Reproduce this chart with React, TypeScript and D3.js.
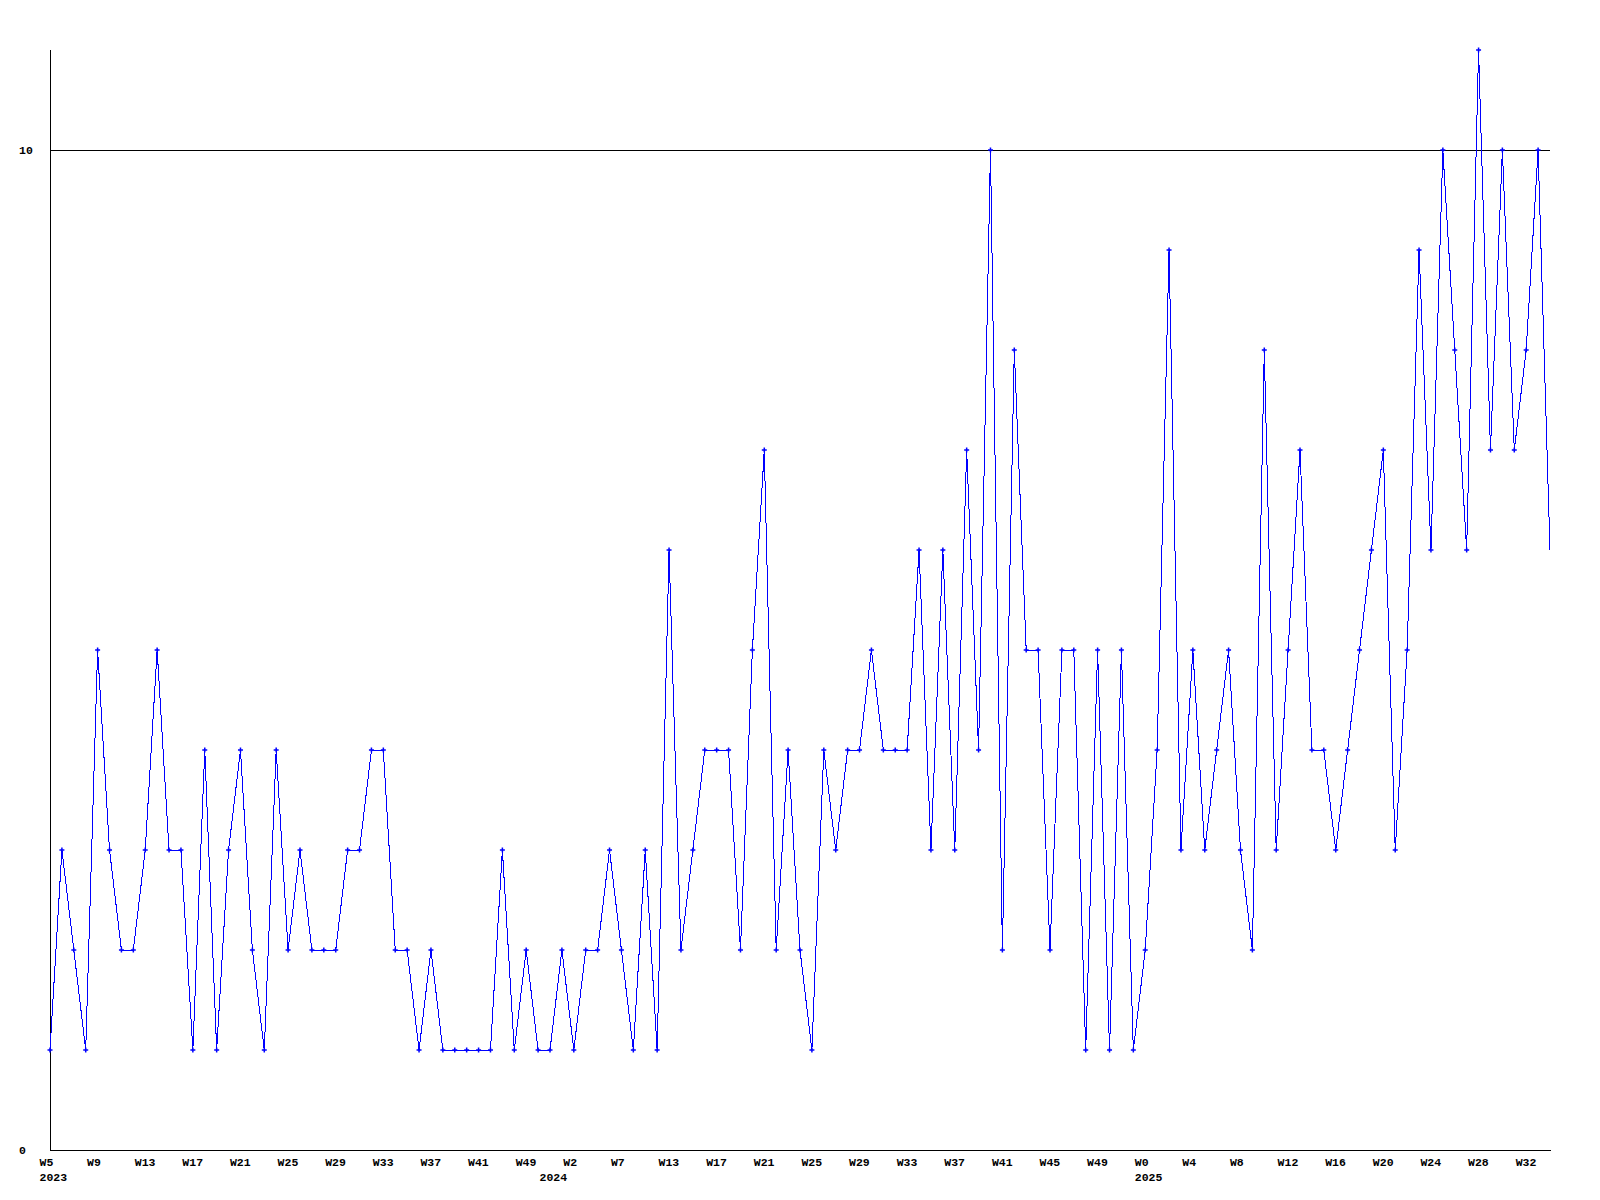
import React, { useEffect } from "react";
import * as d3 from "d3";

const values: number[] = [
  1, 3, 2, 1, 5, 3, 2, 2, 3, 5, 3, 3, 1, 4, 1, 3, 4, 2, 1, 4,
  2, 3, 2, 2, 2, 3, 3, 4, 4, 2, 2, 1, 2, 1, 1, 1, 1, 1, 3, 1,
  2, 1, 1, 2, 1, 2, 2, 3, 2, 1, 3, 1, 6, 2, 3, 4, 4, 4, 2, 5,
  7, 2, 4, 2, 1, 4, 3, 4, 4, 5, 4, 4, 4, 6, 3, 6, 3, 7, 4, 10,
  2, 8, 5, 5, 2, 5, 5, 1, 5, 1, 5, 1, 2, 4, 9, 3, 5, 3, 4, 5,
  3, 2, 8, 3, 5, 7, 4, 4, 3, 4, 5, 6, 7, 3, 5, 9, 6, 10, 8, 6,
  11, 7, 10, 7, 8, 10, 6,
];

const weekLabels: string[] = [
  "W5", "W9", "W13", "W17", "W21", "W25", "W29", "W33", "W37", "W41", "W49", "W2",
  "W7", "W13", "W17", "W21", "W25", "W29", "W33", "W37", "W41", "W45", "W49", "W0",
  "W4", "W8", "W12", "W16", "W20", "W24", "W28", "W32",
];
const weekLabelStep = 4;

const yearLabels: string[] = ["2023", "2024", "2025"];
const yearIndex: number[] = [0, 42, 92];

const yTicks: number[] = [0, 10];
const yMax = 11;

const W = 1600;
const H = 1200;
const left = 50;
const right = 1550;
const top = 50;
const bottom = 1150;

const FONT = "'Liberation Mono', 'DejaVu Sans Mono', monospace";

export default function App() {
  useEffect(() => {
    document.body.style.margin = "0";
  }, []);

  const x = d3.scaleLinear().domain([0, values.length - 1]).range([left, right]);
  const y = d3.scaleLinear().domain([0, yMax]).range([bottom, top]);

  const line = d3
    .line<number>()
    .x((_, i) => x(i))
    .y((d) => y(d));

  const path = line(values) || "";

  return (
    <svg
      width={W}
      height={H}
      style={{ position: "absolute", left: 0, top: 0, background: "#fff" }}
    >
      <rect x={0} y={0} width={W} height={H} fill="#fff" />
      {/* grid line at 10 */}
      {yTicks
        .filter((t) => t > 0)
        .map((t) => (
          <line
            key={"g" + t}
            x1={left}
            x2={right}
            y1={Math.round(y(t)) + 0.5}
            y2={Math.round(y(t)) + 0.5}
            stroke="#000"
            strokeWidth={1}
            shapeRendering="crispEdges"
          />
        ))}
      {/* axes */}
      <line
        x1={left + 0.5}
        x2={left + 0.5}
        y1={top}
        y2={bottom + 0.5}
        stroke="#000"
        strokeWidth={1}
        shapeRendering="crispEdges"
      />
      <line
        x1={left}
        x2={right + 1}
        y1={bottom + 0.5}
        y2={bottom + 0.5}
        stroke="#000"
        strokeWidth={1}
        shapeRendering="crispEdges"
      />
      {/* y tick labels */}
      {yTicks.map((t) => (
        <text
          key={"yt" + t}
          x={19}
          y={y(t) + 4}
          fontFamily={FONT}
          fontWeight="bold"
          fontSize={11.5}
          fill="#000"
        >
          {t}
        </text>
      ))}
      {/* week labels */}
      {weekLabels.map((lab, i) => (
        <text
          key={"w" + i}
          x={x(i * weekLabelStep) - 10.5}
          y={bottom + 16}
          fontFamily={FONT}
          fontWeight="bold"
          fontSize={11.5}
          fill="#000"
        >
          {lab}
        </text>
      ))}
      {/* year labels */}
      {yearLabels.map((lab, i) => (
        <text
          key={"y" + i}
          x={x(yearIndex[i]) - 10.5}
          y={bottom + 31}
          fontFamily={FONT}
          fontWeight="bold"
          fontSize={11.5}
          fill="#000"
        >
          {lab}
        </text>
      ))}
      {/* data line */}
      <path d={path} fill="none" stroke="#0000ff" strokeWidth={1} shapeRendering="crispEdges" />
      {/* markers */}
      {values.slice(0, values.length - 1).map((v, i) => (
        <path
          key={"m" + i}
          d={`M${x(i) - 2.5},${y(v)}H${x(i) + 2.5}M${x(i)},${y(v) - 2.5}V${y(v) + 2.5}`}
          stroke="#0000ff"
          strokeWidth={1.5}
          fill="none"
        />
      ))}
    </svg>
  );
}
